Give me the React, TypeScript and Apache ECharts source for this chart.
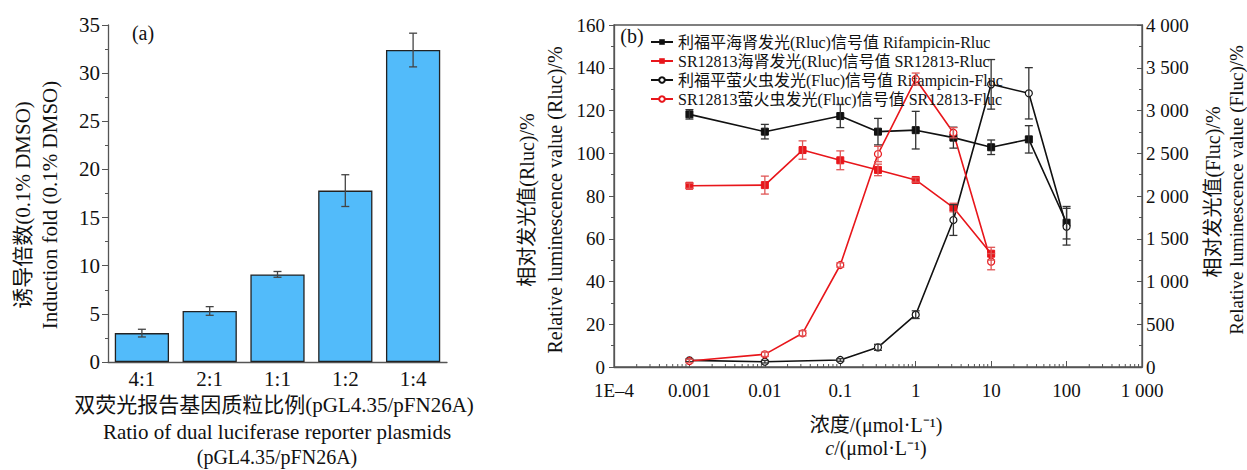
import React, { useEffect, useRef } from "react";
import * as echarts from "echarts";

const FONT = "'Liberation Serif', 'Times New Roman', 'Noto Sans CJK SC', serif";

// ---- Panel (a) ----
const categories = ["4:1", "2:1", "1:1", "1:2", "1:4"];
const inductionFold = [3.0, 5.3, 9.1, 17.8, 32.4];
const inductionErr = [0.4, 0.45, 0.3, 1.65, 1.75];

// ---- Panel (b) ----
const concRif = [0.001, 0.01, 0.1, 0.316, 1, 3.16, 10, 31.6, 100];
const concSR = [0.001, 0.01, 0.0316, 0.1, 0.316, 1, 3.16, 10];

const rifRluc = [118.2, 110.1, 117.4, 110.1, 110.8, 107.3, 102.8, 106.5, 67.5];
const rifRlucErr = [2.2, 3.4, 5.4, 6.2, 8.8, 4.9, 3.4, 6.4, 7.6];
const srRluc = [84.8, 85.1, 101.5, 96.7, 92.2, 87.5, 74.6, 53];
const srRlucErr = [1.2, 4.2, 4.3, 4.4, 2.7, 1.0, 2.0, 3.0];
const rifFluc = [78, 62, 82, 230, 612, 1719, 3306, 3201, 1641];
const rifFlucErr = [15, 15, 15, 35, 45, 180, 290, 300, 215];
const srFluc = [70, 148, 394, 1193, 2491, 3368, 2740, 1232];
const srFlucErr = [20, 25, 30, 25, 90, 70, 60, 95];

const xTickLabels = ["1E–4", "0.001", "0.01", "0.1", "1", "10", "100", "1 000"];
const rightTickLabels = ["0", "500", "1 000", "1 500", "2 000", "2 500", "3 000", "3 500", "4 000"];
const logMinorTicks = [
  2e-4, 3e-4, 4e-4, 5e-4, 6e-4, 7e-4, 8e-4, 9e-4,
  2e-3, 3e-3, 4e-3, 5e-3, 6e-3, 7e-3, 8e-3, 9e-3,
  0.02, 0.03, 0.04, 0.05, 0.06, 0.07, 0.08, 0.09,
  0.2, 0.3, 0.4, 0.5, 0.6, 0.7, 0.8, 0.9,
  2, 3, 4, 5, 6, 7, 8, 9,
  20, 30, 40, 50, 60, 70, 80, 90,
  200, 300, 400, 500, 600, 700, 800, 900,
];

const NAMES = [
  "利福平海肾发光(Rluc)信号值 Rifampicin-Rluc",
  "SR12813海肾发光(Rluc)信号值 SR12813-Rluc",
  "利福平萤火虫发光(Fluc)信号值 Rifampicin-Fluc",
  "SR12813萤火虫发光(Fluc)信号值 SR12813-Fluc",
];

const BLACK = "#111111";
const RED = "#e8161b";

function errRender(color: string, cap: number) {
  return (params: any, api: any) => {
    const x = api.value(0);
    const y = api.value(1);
    const e = api.value(2);
    const t = api.coord([x, y + e]);
    const b = api.coord([x, y - e]);
    const style = { stroke: color, lineWidth: 1.3 };
    return {
      type: "group",
      children: [
        { type: "line", shape: { x1: t[0], y1: t[1], x2: b[0], y2: b[1] }, style },
        { type: "line", shape: { x1: t[0] - cap, y1: t[1], x2: t[0] + cap, y2: t[1] }, style },
        { type: "line", shape: { x1: b[0] - cap, y1: b[1], x2: b[0] + cap, y2: b[1] }, style },
      ],
    };
  };
}

function zip2(xs: number[], ys: number[]) {
  return xs.map((x, i) => [x, ys[i]]);
}
function zip3(xs: number[], ys: number[], es: number[]) {
  return xs.map((x, i) => [x, ys[i], es[i]]);
}

function vText(text: string, x: number, y: number, size: number, rich?: any) {
  return {
    type: "text",
    x,
    y,
    rotation: Math.PI / 2,
    silent: true,
    style: {
      text,
      fontFamily: FONT,
      fontSize: size,
      fill: "#111",
      align: "center",
      verticalAlign: "middle",
      rich,
    },
  };
}
function hText(text: string, x: number, y: number, size: number, rich?: any) {
  return {
    type: "text",
    x,
    y,
    silent: true,
    style: {
      text,
      fontFamily: FONT,
      fontSize: size,
      fill: "#111",
      align: "center",
      verticalAlign: "middle",
      rich,
    },
  };
}

export default function App() {
  const ref = useRef<HTMLDivElement>(null);
  useEffect(() => {
    if (!ref.current) return;
    const chart = echarts.init(ref.current, undefined, { renderer: "svg" });
    const axisLine = { lineStyle: { color: "#555", width: 1.3 } };
    const labelBase = { fontFamily: FONT, color: "#111" };

    const option: any = {
      animation: false,
      backgroundColor: "#fff",
      grid: [
        { left: 108, top: 25, width: 339, height: 337 },
        {
          left: 614,
          top: 25,
          width: 528,
          height: 342,
          show: true,
          borderColor: "#555",
          borderWidth: 1.3,
          backgroundColor: "transparent",
        },
      ],
      legend: {
        left: 645,
        top: 28,
        orient: "vertical",
        itemWidth: 22,
        itemHeight: 7,
        itemGap: 1,
        selectedMode: false,
        data: NAMES,
        textStyle: { fontFamily: FONT, fontSize: 16, color: "#111", lineHeight: 18 },
      },
      xAxis: [
        {
          type: "category",
          gridIndex: 0,
          data: categories,
          axisLine,
          axisTick: { inside: true, alignWithLabel: true, length: 4, lineStyle: { color: "#555" } },
          axisLabel: { ...labelBase, fontSize: 21, margin: 6 },
        },
        {
          type: "log",
          gridIndex: 1,
          logBase: 10,
          min: 1e-4,
          max: 1000,
          axisLine,
          splitLine: { show: false },
          axisTick: { inside: true, length: 6, lineStyle: { color: "#555" } },
          axisLabel: {
            ...labelBase,
            fontSize: 19,
            margin: 14,
            formatter: (v: number) => {
              const i = Math.round(Math.log10(v)) + 4;
              return xTickLabels[i] ?? "";
            },
          },
        },
      ],
      yAxis: [
        {
          type: "value",
          gridIndex: 0,
          min: 0,
          max: 35,
          interval: 5,
          axisLine: { show: true, ...axisLine },
          splitLine: { show: false },
          axisTick: { show: true, length: 6, lineStyle: { color: "#555" } },
          minorTick: { show: true, splitNumber: 2, length: 3, lineStyle: { color: "#555" } },
          axisLabel: { ...labelBase, fontSize: 21, margin: 8 },
        },
        {
          type: "value",
          gridIndex: 1,
          min: 0,
          max: 160,
          interval: 20,
          axisLine: { show: true, ...axisLine },
          splitLine: { show: false },
          axisTick: { show: true, length: 5, lineStyle: { color: "#555" } },
          minorTick: { show: true, splitNumber: 2, length: 3, lineStyle: { color: "#555" } },
          axisLabel: { ...labelBase, fontSize: 19, margin: 9 },
        },
        {
          type: "value",
          gridIndex: 1,
          position: "right",
          min: 0,
          max: 4000,
          interval: 500,
          axisLine: { show: true, ...axisLine },
          splitLine: { show: false },
          axisTick: { show: true, inside: true, length: 5, lineStyle: { color: "#555" } },
          minorTick: { show: true, splitNumber: 2, length: 3, lineStyle: { color: "#555" } },
          axisLabel: {
            ...labelBase,
            fontSize: 19,
            margin: 4,
            formatter: (v: number) => rightTickLabels[Math.round(v / 500)] ?? "",
          },
        },
      ],
      series: [
        {
          type: "bar",
          xAxisIndex: 0,
          yAxisIndex: 0,
          data: inductionFold,
          barWidth: "80%",
          itemStyle: { color: "#52BBFA", borderColor: "#222", borderWidth: 1.3 },
        },
        {
          type: "custom",
          xAxisIndex: 0,
          yAxisIndex: 0,
          z: 5,
          silent: true,
          renderItem: errRender("#444", 4),
          data: inductionFold.map((v, i) => [i, v, inductionErr[i]]),
        },
        // log-axis minor ticks
        {
          type: "custom",
          xAxisIndex: 1,
          yAxisIndex: 1,
          silent: true,
          renderItem: (params: any, api: any) => {
            const p = api.coord([api.value(0), 0]);
            return {
              type: "line",
              shape: { x1: p[0], y1: p[1], x2: p[0], y2: p[1] - 3 },
              style: { stroke: "#555", lineWidth: 1 },
            };
          },
          data: logMinorTicks.map((v) => [v]),
        },
        {
          name: NAMES[0],
          type: "line",
          xAxisIndex: 1,
          yAxisIndex: 1,
          data: zip2(concRif, rifRluc),
          symbol: "rect",
          symbolSize: 7,
          lineStyle: { color: BLACK, width: 1.6 },
          itemStyle: { color: BLACK, borderColor: BLACK },
        },
        {
          name: NAMES[1],
          type: "line",
          xAxisIndex: 1,
          yAxisIndex: 1,
          data: zip2(concSR, srRluc),
          symbol: "rect",
          symbolSize: 7,
          lineStyle: { color: RED, width: 1.6 },
          itemStyle: { color: RED, borderColor: RED },
        },
        {
          name: NAMES[2],
          type: "line",
          xAxisIndex: 1,
          yAxisIndex: 2,
          data: zip2(concRif, rifFluc),
          symbol: "circle",
          symbolSize: 7,
          lineStyle: { color: BLACK, width: 1.6 },
          itemStyle: { color: "#fff", borderColor: BLACK, borderWidth: 1.2 },
        },
        {
          name: NAMES[3],
          type: "line",
          xAxisIndex: 1,
          yAxisIndex: 2,
          data: zip2(concSR, srFluc),
          symbol: "circle",
          symbolSize: 7,
          lineStyle: { color: RED, width: 1.6 },
          itemStyle: { color: "#fff", borderColor: RED, borderWidth: 1.2 },
        },
        {
          type: "custom",
          xAxisIndex: 1,
          yAxisIndex: 1,
          z: 5,
          silent: true,
          renderItem: errRender("#333", 4),
          data: zip3(concRif, rifRluc, rifRlucErr),
        },
        {
          type: "custom",
          xAxisIndex: 1,
          yAxisIndex: 1,
          z: 5,
          silent: true,
          renderItem: errRender("#e05555", 4),
          data: zip3(concSR, srRluc, srRlucErr),
        },
        {
          type: "custom",
          xAxisIndex: 1,
          yAxisIndex: 2,
          z: 5,
          silent: true,
          renderItem: errRender("#333", 4),
          data: zip3(concRif, rifFluc, rifFlucErr),
        },
        {
          type: "custom",
          xAxisIndex: 1,
          yAxisIndex: 2,
          z: 5,
          silent: true,
          renderItem: errRender("#e05555", 4),
          data: zip3(concSR, srFluc, srFlucErr),
        },
      ],
      graphic: [
        hText("(a)", 143, 33, 20),
        hText("(b)", 632, 36, 20),
        vText("诱导倍数(0.1% DMSO)", 23, 205, 21),
        vText("Induction fold (0.1% DMSO)", 50, 205, 21),
        hText("双荧光报告基因质粒比例(pGL4.35/pFN26A)", 274, 405, 21),
        hText("Ratio of dual luciferase reporter plasmids", 277, 432, 21),
        hText("(pGL4.35/pFN26A)", 277, 457, 20),
        vText("相对发光值(Rluc)/%", 527, 200, 20),
        vText("Relative luminescence value (Rluc)/%", 555, 200, 20),
        vText("相对发光值(Fluc)/%", 1213, 192, 20),
        vText("Relative luminescence value (Fluc)/%", 1236, 190, 19),
        hText("浓度/(μmol·L⁻¹)", 876, 425, 20),
        hText("{i|c}/(μmol·L⁻¹)", 876, 448, 20, {
          i: { fontFamily: FONT, fontSize: 20, fontStyle: "italic", fill: "#111" },
        }),
      ],
    };
    chart.setOption(option);
    return () => chart.dispose();
  }, []);
  return (
    <div
      ref={ref}
      style={{ position: "fixed", left: 0, top: 0, width: 1247, height: 470, background: "#fff" }}
    />
  );
}
